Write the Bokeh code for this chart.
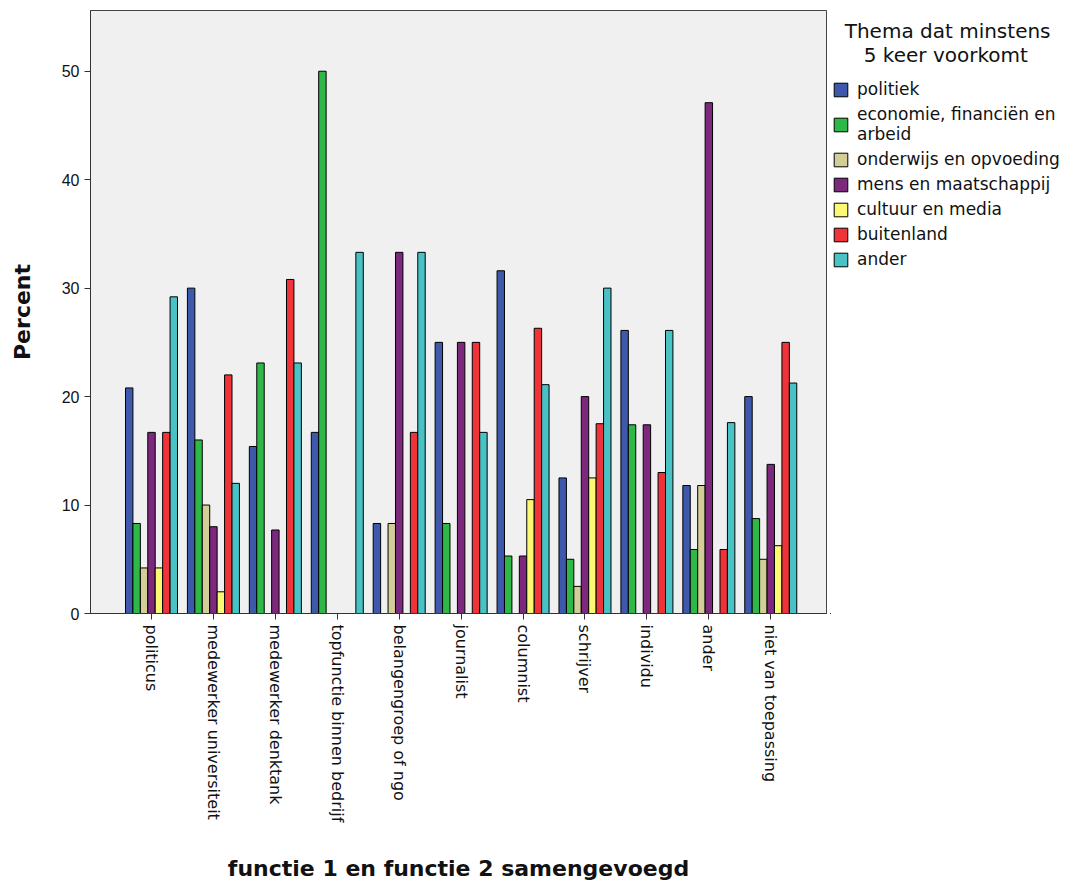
import math
from bokeh.plotting import figure
from bokeh.layouts import row
from bokeh.models import ColumnDataSource, Range1d, FixedTicker, Legend, LegendItem
from bokeh.embed import file_html
from bokeh.resources import INLINE

categories = ["politicus", "medewerker universiteit", "medewerker denktank",
              "topfunctie binnen bedrijf", "belangengroep of ngo", "journalist",
              "columnist", "schrijver", "individu", "ander", "niet van toepassing"]
series_names = ["politiek", "economie, financiën en\narbeid", "onderwijs en opvoeding",
                "mens en maatschappij", "cultuur en media", "buitenland", "ander"]
legend_title = ["Thema dat minstens", "5 keer voorkomt"]
colors = ["#3E58AC", "#2EB848", "#D3CE97", "#7C287D", "#FBF873", "#EF3338", "#48C2C5"]

politiek   = [20.8, 30.0, 15.4, 16.7, 8.3, 25.0, 31.6, 12.5, 26.1, 11.8, 20.0]
economie   = [8.3, 16.0, 23.1, 50.0, 0.0, 8.3, 5.3, 5.0, 17.4, 5.9, 8.75]
onderwijs  = [4.2, 10.0, 0.0, 0.0, 8.3, 0.0, 0.0, 2.5, 0.0, 11.8, 5.0]
mens       = [16.7, 8.0, 7.7, 0.0, 33.3, 25.0, 5.3, 20.0, 17.4, 47.1, 13.75]
cultuur    = [4.2, 2.0, 0.0, 0.0, 0.0, 0.0, 10.5, 12.5, 0.0, 0.0, 6.25]
buitenland = [16.7, 22.0, 30.8, 0.0, 16.7, 25.0, 26.3, 17.5, 13.0, 5.9, 25.0]
ander      = [29.2, 12.0, 23.1, 33.3, 33.3, 16.7, 21.1, 30.0, 26.1, 17.6, 21.25]

all_series = [politiek, economie, onderwijs, mens, cultuur, buitenland, ander]

FONT = "DejaVu Sans"
NB = "\u00a0"

p = figure(width=830, height=884, output_backend="svg", toolbar_location=None,
           x_range=Range1d(-0.985, 10.9), y_range=Range1d(0, 55.6),
           min_border_left=90, min_border_top=10, min_border_right=4, min_border_bottom=267)
p.background_fill_color = "#F0F0F0"
p.border_fill_color = "white"
p.outline_line_color = "#444444"
p.outline_line_width = 1
p.xgrid.grid_line_color = None
p.ygrid.grid_line_color = None

bw = 0.12
xs = list(range(len(categories)))
for j, (vals, col) in enumerate(zip(all_series, colors)):
    src = ColumnDataSource(dict(x=[x + (j - 3) * bw for x in xs], top=vals))
    p.vbar(x="x", top="top", bottom=0, width=bw, source=src,
           fill_color=col, line_color="black", line_width=1)

xa = p.xaxis[0]
xa.ticker = FixedTicker(ticks=xs)
xa.major_label_overrides = {i: c for i, c in enumerate(categories)}
xa.major_label_orientation = -math.pi / 2
xa.major_label_text_font = FONT
xa.major_label_text_font_size = "16px"
xa.major_label_text_color = "#111111"
xa.minor_tick_line_color = None
xa.major_tick_out = 6
xa.major_tick_in = 0
xa.major_tick_line_color = "#333333"
xa.axis_line_color = "#333333"
xa.axis_label = "functie 1 en functie 2 samengevoegd"
xa.axis_label_text_font = FONT
xa.axis_label_text_font_size = "22px"
xa.axis_label_text_font_style = "bold"
xa.axis_label_text_color = "#111111"
xa.axis_label_standoff = 31

ya = p.yaxis[0]
ya.ticker = FixedTicker(ticks=[0, 10, 20, 30, 40, 50])
ya.major_label_text_font = "Liberation Sans"
ya.major_label_text_font_size = "16px"
ya.major_label_text_color = "#111111"
ya.minor_tick_line_color = None
ya.major_tick_out = 6
ya.major_tick_in = 0
ya.major_tick_line_color = "#333333"
ya.axis_line_color = "#333333"
ya.axis_label = "Percent"
ya.axis_label_text_font = FONT
ya.axis_label_text_font_size = "22px"
ya.axis_label_text_font_style = "bold"
ya.axis_label_text_color = "#111111"
ya.axis_label_standoff = 24

# Legend panel (separate figure to the right; its bars lie far outside its ranges, only swatches show)
lp = figure(width=244, height=884, output_backend="svg", toolbar_location=None,
            x_range=Range1d(0, 1), y_range=Range1d(0, 1),
            x_axis_type=None, y_axis_type=None,
            min_border_left=0, min_border_top=10, min_border_right=0, min_border_bottom=267)
lp.outline_line_color = None
lp.background_fill_color = "white"
lp.border_fill_color = "white"
lp.xgrid.grid_line_color = None
lp.ygrid.grid_line_color = None

items = []
for name, col in zip(series_names, colors):
    r = lp.vbar(x=[-10], top=[-5], bottom=-6, width=0.1,
                fill_color=col, line_color="black", line_width=1)
    items.append(LegendItem(label=name, renderers=[r]))

title_text = NB * 2 + legend_title[0] + "\n" + NB * 5 + legend_title[1]
legend = Legend(items=items, location=(2, 344), title=title_text)
legend.border_line_alpha = 0
legend.background_fill_alpha = 0
legend.title_text_font = FONT
legend.title_text_font_size = "20px"
legend.title_text_font_style = "normal"
legend.title_text_color = "#111111"
legend.title_standoff = 12
legend.label_text_font = FONT
legend.label_text_font_size = "17px"
legend.label_text_color = "#111111"
legend.glyph_width = 17
legend.glyph_height = 17
legend.spacing = 5
legend.margin = 0
legend.padding = 0
legend.label_standoff = 8
legend.label_height = 20
lp.add_layout(legend, "center")

layout = row(p, lp, spacing=0)
open("out.html", "w").write(file_html(layout, INLINE))
